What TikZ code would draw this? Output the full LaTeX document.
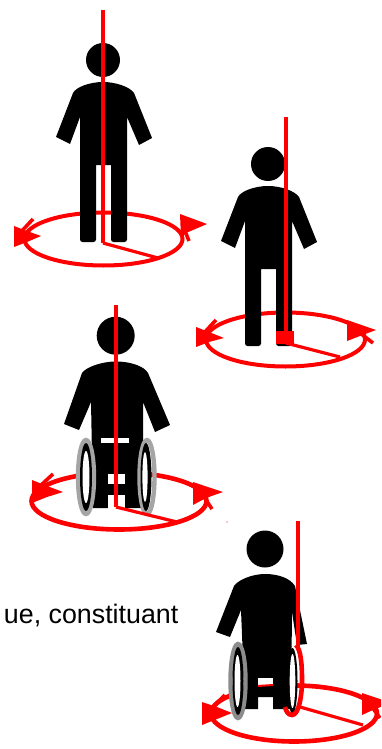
\documentclass[tikz,border=0pt]{standalone}
\usepackage{fontspec}
\setmainfont{Liberation Sans}
\definecolor{axisred}{RGB}{255,0,0}
\definecolor{rimgray}{RGB}{165,165,165}
\tikzset{
  axisline/.style={draw=axisred,line width=4pt},
  radius line/.style={draw=axisred,line width=3.2pt},
  floorring/.style={draw=axisred,line width=4pt},
  bigring/.style={draw=axisred,line width=4.6pt},
  arrowfill/.style={fill=axisred,draw=none},
  tickline/.style={draw=axisred,line width=3.6pt},
  figure/.style={fill=black,draw=none},
  gapfill/.style={fill=white,draw=none},
  rimgrey/.style={draw=rimgray,line width=4.4pt},
  rimred/.style={draw=axisred,line width=4.6pt},
}
\newcommand{\standbody}{%
  \fill[figure]
    (73,93) .. controls (76,87) and (90,82) .. (103,82)
    .. controls (116,82) and (130,87) .. (134,93)
    -- (152,138) -- (139,145) -- (127,117)
    [rounded corners=2.5pt] -- (127,242) -- (111,242) [sharp corners] -- (111,165)
    -- (96,165) [rounded corners=2.5pt] -- (96,242) -- (80,242) [sharp corners] -- (80,117) -- (70,144) -- (56,137) -- cycle;
  \fill[figure] (103,60) circle [radius=17pt];}
\begin{document}
\begin{tikzpicture}[x=1pt,y=-1pt]
\useasboundingbox (0,0) rectangle (381,749);
\clip (0,0) rectangle (381,749);
\node[anchor=base east,inner sep=0pt,font=\fontsize{26.8}{30}\selectfont,text=black] (caption) at (178.5,623.5) {ue, constituant};
% figure 1
\draw[floorring] (103.5,239) ellipse [x radius=79pt,y radius=26.5pt];
\standbody
\draw[axisline] (103,10) -- (103,243);
\draw[radius line] (103,243) -- (158,258);
\fill[arrowfill] (180,214) -- (207,224) -- (186,233) -- (181,238) -- cycle;
\draw[tickline] (183,226) -- (189,241);
\fill[arrowfill] (14,226) -- (27,231) -- (41,236) -- (27,242) -- (14,247) -- cycle;
\draw[tickline] (33,219) -- (20,233);
% figure 2
\draw[floorring] (285.5,339.5) ellipse [x radius=79.5pt,y radius=27pt];
\begin{scope}[shift={(165,104)}]\standbody\end{scope}
\draw[axisline] (285.7,117) -- (285.7,343);
\fill[axisred] (276,331) rectangle (293.5,343.5);
\draw[radius line] (285.7,343) -- (340,357);
\fill[arrowfill] (347,320) -- (376,330) -- (360,336) -- (347,341) -- cycle;
\draw[tickline] (360,333) -- (373,343);
\fill[arrowfill] (196,327) -- (209,332) -- (224,338) -- (209,342) -- (196,347) -- cycle;
\draw[tickline] (216,320) -- (204,333);
% figure 3
\draw[bigring] (119,501) ellipse [x radius=87.5pt,y radius=28.5pt];
\fill[axisred] (227,522) circle [radius=0.7pt];
\fill[figure]
  (82,373) .. controls (86,367) and (102,361.5) .. (116,361.5)
  .. controls (130,361.5) and (144,366) .. (148,373)
  -- (170,425) -- (155,432) -- (143,402) -- (143,508) -- (93,508) -- (91,402)
  -- (79,430) -- (64,424) -- cycle;
\fill[figure] (115.7,335.7) circle [radius=19pt];
\fill[gapfill] (101,438) rectangle (129,443);
\fill[gapfill] (108,474) rectangle (125,484);
\fill[gapfill] (108,495) rectangle (125,509);
\draw[rimgrey] (86,477) ellipse [x radius=8pt,y radius=37pt];
\fill[black] (86,477) ellipse [x radius=6pt,y radius=34pt];
\fill[white] (86,477) ellipse [x radius=3.5pt,y radius=26pt];
\draw[rimgrey] (147,477) ellipse [x radius=7.5pt,y radius=37pt];
\fill[black] (146,477) ellipse [x radius=5.5pt,y radius=34pt];
\fill[white] (145,477) ellipse [x radius=2.6pt,y radius=25pt];
\draw[axisline] (116,305) -- (116,507);
\draw[radius line] (116,507) -- (177,522);
\fill[arrowfill] (193,482) -- (223,492) -- (206,498) -- (193,505) -- cycle;
\draw[tickline] (204,497) -- (212,509);
\fill[arrowfill] (32,480) -- (47,486) -- (63,492) -- (47,497) -- (32,503) -- cycle;
\draw[tickline] (53,474) -- (39,487);
% figure 4
\draw[bigring] (294,713.5) ellipse [x radius=83pt,y radius=28pt];
\fill[figure]
  (234,586) .. controls (238,580) and (252,574) .. (265,574)
  .. controls (278,574) and (290,578) .. (295,586)
  -- (307,644) -- (297,645) -- (292,612) -- (291,709) -- (273,709) -- (273,697)
  -- (258,697) -- (258,709) -- (245,709) -- (241,610) -- (230,637) -- (216,632) -- cycle;
\fill[figure] (265,549) circle [radius=18.5pt];
\fill[gapfill] (258,678) rectangle (273,686);
\draw[axisred,line width=2pt] (258,686) -- (273,685);
\draw[rimgrey,draw=rimgray!85!black] (238,681) ellipse [x radius=7.5pt,y radius=37pt];
\fill[black] (238,681) ellipse [x radius=5.5pt,y radius=34pt];
\fill[white] (237.5,681) ellipse [x radius=3pt,y radius=26pt];
\fill[black] (292.5,681) ellipse [x radius=5pt,y radius=33pt];
\fill[white] (292.5,681) ellipse [x radius=2.8pt,y radius=27pt];
\draw[axisline] (297.7,521) -- (297.7,647);
\draw[rimred] (296,645) .. controls (301,650) and (302,665) .. (302,680)
  .. controls (302,695) and (299,715) .. (292,715)
  .. controls (288,715) and (286,711) .. (285,707);
\draw[radius line] (300,707) -- (363,725);
\fill[arrowfill] (362,693) -- (392,703) -- (375,709) -- (362,715) -- cycle;
\draw[tickline] (372,707) -- (380,718);
\fill[arrowfill] (202,702) -- (217,707) -- (232,713) -- (217,719) -- (202,725) -- cycle;
\draw[tickline] (225,695) -- (212,708);
\end{tikzpicture}
\end{document}
